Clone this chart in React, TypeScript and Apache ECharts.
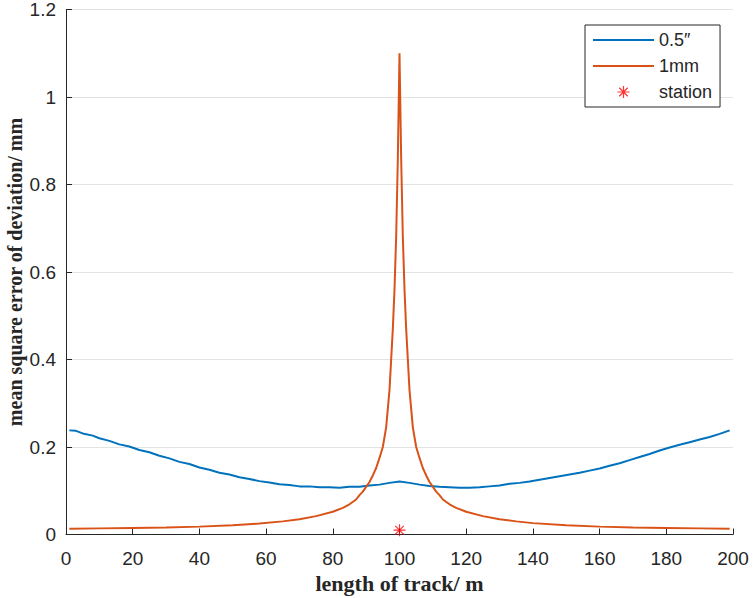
import React, { useEffect, useRef } from "react";
import * as echarts from "echarts";

const X_TICKS = { min: 0, max: 200, interval: 20 };
const Y_TICKS = { min: 0, max: 1.2, interval: 0.2 };

const SERIES_NAMES = ["0.5″", "1mm", "station"];

// blue: 0.5″
const BLUE_X = [1, 3, 5, 8, 10, 13, 16, 19, 22, 25, 28, 31, 34, 37, 40, 43, 46, 49, 52, 55, 58, 61, 64, 67, 70, 73, 76, 79, 82, 85, 88, 91, 94, 97, 100, 103, 106, 109, 112, 115, 118, 121, 124, 127, 130, 133, 136, 139, 142, 145, 148, 151, 154, 157, 160, 163, 166, 169, 172, 175, 178, 181, 184, 187, 190, 193, 196, 199];
const BLUE_Y = [0.238, 0.237, 0.231, 0.226, 0.220, 0.214, 0.206, 0.201, 0.193, 0.188, 0.180, 0.174, 0.166, 0.161, 0.153, 0.148, 0.141, 0.137, 0.131, 0.127, 0.122, 0.119, 0.115, 0.113, 0.110, 0.110, 0.108, 0.108, 0.107, 0.109, 0.109, 0.112, 0.114, 0.118, 0.121, 0.118, 0.114, 0.111, 0.109, 0.108, 0.107, 0.107, 0.108, 0.110, 0.112, 0.116, 0.118, 0.121, 0.125, 0.129, 0.133, 0.137, 0.141, 0.146, 0.151, 0.157, 0.163, 0.170, 0.177, 0.184, 0.192, 0.199, 0.205, 0.211, 0.217, 0.223, 0.230, 0.238];

// orange: 1mm
const ORANGE_X = [1, 10, 20, 30, 40, 50, 58, 65, 70, 75, 80, 83, 85, 87, 88, 89, 90, 91, 92, 93, 94, 95, 96, 97, 97.5, 98, 98.5, 99, 99.5, 100, 100.5, 101, 101.5, 102, 102.5, 103, 104, 105, 106, 107, 108, 109, 110, 111, 112, 113, 115, 117, 120, 125, 130, 135, 140, 150, 160, 170, 180, 190, 199];
const ORANGE_Y = [0.013, 0.014, 0.015, 0.016, 0.018, 0.021, 0.025, 0.030, 0.035, 0.042, 0.052, 0.061, 0.069, 0.080, 0.090, 0.098, 0.109, 0.120, 0.135, 0.152, 0.175, 0.200, 0.245, 0.330, 0.400, 0.470, 0.560, 0.680, 0.860, 1.100, 0.860, 0.680, 0.560, 0.470, 0.400, 0.330, 0.245, 0.200, 0.175, 0.152, 0.135, 0.120, 0.109, 0.098, 0.090, 0.080, 0.069, 0.061, 0.052, 0.042, 0.035, 0.030, 0.026, 0.021, 0.018, 0.016, 0.015, 0.014, 0.013];

// station
const STATION_X = [100];
const STATION_Y = [0.01];

const ASTERISK =
  "path://M-0.6,-6L0.6,-6L0.6,6L-0.6,6Z M-6,-0.6L6,-0.6L6,0.6L-6,0.6Z M-3.82,-4.67L4.67,3.82L3.82,4.67L-4.67,-3.82Z M3.82,-4.67L4.67,-3.82L-3.82,4.67L-4.67,3.82Z";

export default function App() {
  const ref = useRef<HTMLDivElement>(null);
  useEffect(() => {
    if (!ref.current) return;
    const chart = echarts.init(ref.current, null, { renderer: "svg" });
    const sans = "'Liberation Sans', Arial, sans-serif";
    const serif = "'Liberation Serif', 'Times New Roman', serif";
    chart.setOption({
      animation: false,
      backgroundColor: "#fff",
      grid: {
        left: 66,
        right: 21,
        top: 9.5,
        bottom: 63.5,
        containLabel: false,
        outerBoundsMode: "none",
      },
      legend: {
        orient: "vertical",
        left: 585,
        top: 25,
        padding: [6, 8, 6, 7],
        itemGap: 8,
        itemWidth: 61,
        itemHeight: 12,
        borderColor: "#262626",
        borderWidth: 1,
        backgroundColor: "#fff",
        textStyle: { fontFamily: sans, fontSize: 18, color: "#262626" },
        data: [
          { name: SERIES_NAMES[0], itemStyle: { opacity: 0 } },
          { name: SERIES_NAMES[1], itemStyle: { opacity: 0 } },
          { name: SERIES_NAMES[2] },
        ],
      },
      xAxis: {
        type: "value",
        min: X_TICKS.min,
        max: X_TICKS.max,
        interval: X_TICKS.interval,
        name: "length of track/ m",
        nameLocation: "middle",
        nameGap: 36,
        nameTextStyle: { fontFamily: serif, fontWeight: "bold", fontSize: 22, color: "#262626" },
        axisLine: { show: true, onZero: false, lineStyle: { color: "#262626", width: 1 } },
        axisTick: { show: true, inside: true, length: 6, lineStyle: { color: "#262626" } },
        axisLabel: { fontFamily: sans, fontSize: 19, color: "#262626", margin: 14 },
        splitLine: { show: false },
      },
      yAxis: {
        type: "value",
        min: Y_TICKS.min,
        max: Y_TICKS.max,
        interval: Y_TICKS.interval,
        name: "mean square error of deviation/ mm",
        nameLocation: "middle",
        nameGap: 41,
        nameMoveOverlap: false,
        nameTextStyle: { fontFamily: serif, fontWeight: "bold", fontSize: 20, color: "#262626" },
        axisLine: { show: true, lineStyle: { color: "#262626", width: 1 } },
        axisTick: { show: true, inside: true, length: 6, lineStyle: { color: "#262626" } },
        axisLabel: { fontFamily: sans, fontSize: 19, color: "#262626", margin: 10 },
        splitLine: { show: true, lineStyle: { color: "#e3e3e3", width: 1 } },
      },
      series: [
        {
          name: SERIES_NAMES[0],
          type: "line",
          data: BLUE_X.map((x, i) => [x, BLUE_Y[i]]),
          showSymbol: false,
          symbol: "none",
          lineStyle: { color: "#0072BD", width: 2 },
          itemStyle: { color: "#0072BD" },
          z: 3,
        },
        {
          name: SERIES_NAMES[1],
          type: "line",
          data: ORANGE_X.map((x, i) => [x, ORANGE_Y[i]]),
          showSymbol: false,
          symbol: "none",
          lineStyle: { color: "#D95319", width: 2 },
          itemStyle: { color: "#D95319" },
          z: 4,
        },
        {
          name: SERIES_NAMES[2],
          type: "scatter",
          data: STATION_X.map((x, i) => [x, STATION_Y[i]]),
          symbol: ASTERISK,
          symbolSize: 12,
          itemStyle: { color: "#ff0000" },
          z: 5,
        },
      ],
    });
    return () => chart.dispose();
  }, []);
  return (
    <div
      ref={ref}
      style={{ position: "absolute", left: 0, top: 0, width: 754, height: 598 }}
    />
  );
}
